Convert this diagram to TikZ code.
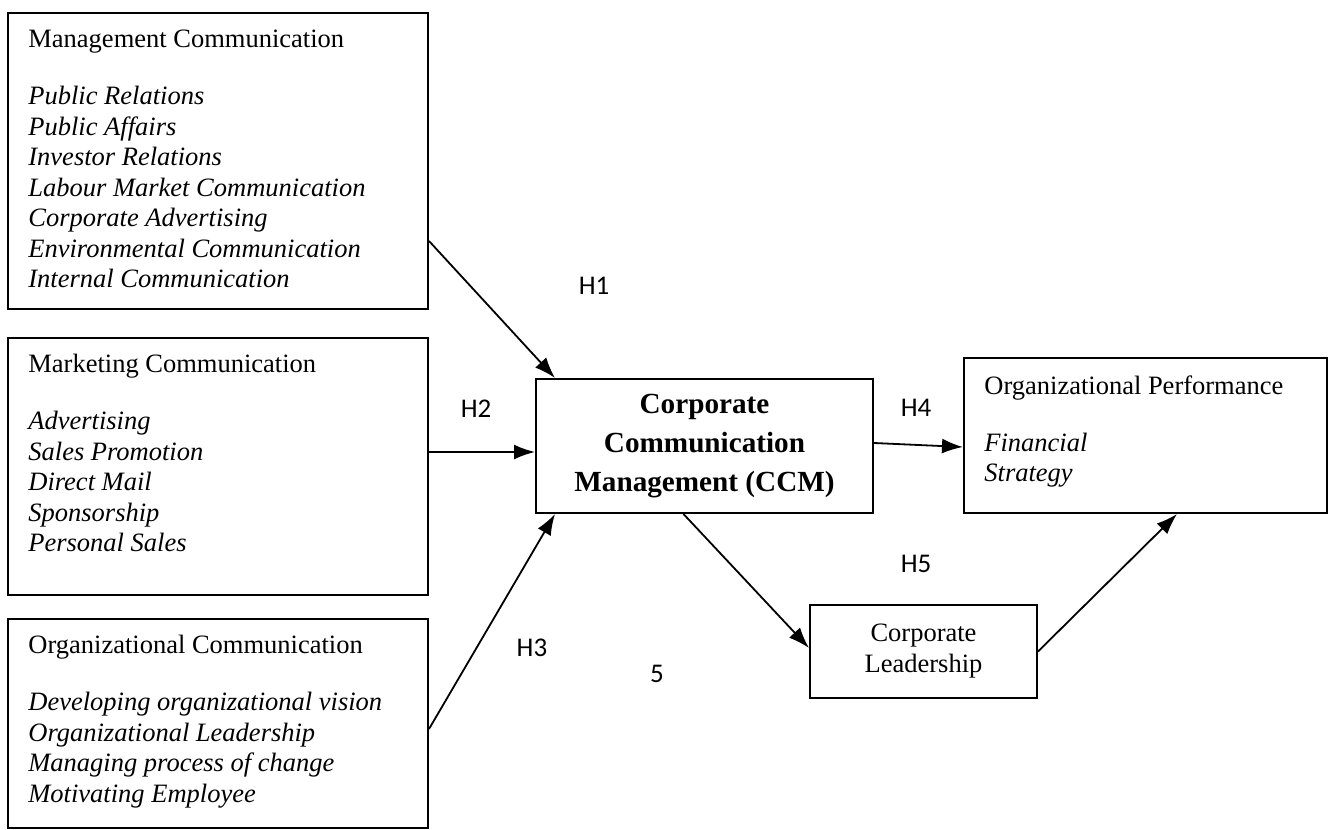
\documentclass[tikz,border=0pt]{standalone}
\usepackage{fontspec}
\setmainfont{Liberation Serif}
\newfontfamily\hfont{Carlito}
\usetikzlibrary{arrows.meta,calc,positioning}

\tikzset{
  box/.style={draw,line width=1pt,rectangle,inner sep=0pt},
  txt/.style={anchor=north west,inner sep=0pt,align=left,
    font=\fontsize{13.25pt}{15.25pt}\selectfont},
  arr/.style={line width=0.9pt,-{Latex[length=7pt,width=5pt,scale=1.5]}},
  hyp/.style={inner sep=0pt,font=\hfont\fontsize{13.5pt}{16pt}\selectfont}
}

\begin{document}
\begin{tikzpicture}[x=0.5pt,y=-0.5pt]
    \useasboundingbox (0,0) rectangle (1330,830);
    % left boxes
    \node[box,minimum width=210pt,minimum height=148pt]   (mgmt) at (218,161)   {};
    \node[box,minimum width=210pt,minimum height=128.5pt] (mktg) at (218,466.5) {};
    \node[box,minimum width=210pt,minimum height=104.5pt] (orgc) at (218,723.5) {};
    \node[txt] (mgmt_t) at ($(mgmt.north west)+(21,18)$)
      {Management Communication\\[13.25pt]
       \itshape Public Relations\\ \itshape Public Affairs\\
       \itshape Investor Relations\\ \itshape Labour Market Communication\\
       \itshape Corporate Advertising\\ \itshape Environmental Communication\\
       \itshape Internal Communication};
    \node[txt] (mktg_t) at ($(mktg.north west)+(21,17)$)
      {Marketing Communication\\[13.25pt]
       \itshape Advertising\\ \itshape Sales Promotion\\ \itshape Direct Mail\\
       \itshape Sponsorship\\ \itshape Personal Sales};
    \node[txt] (orgc_t) at ($(orgc.north west)+(21,17)$)
      {Organizational Communication\\[13.25pt]
       \itshape Developing organizational vision\\
       \itshape Organizational Leadership\\
       \itshape Managing process of change\\ \itshape Motivating Employee};
    % centre and right boxes
    \node[box,minimum width=168.5pt,minimum height=67pt,align=center,
      font=\bfseries\fontsize{14.6pt}{19.5pt}\selectfont] (ccm) at (704.5,446)
      {Corporate\\ Communication\\ Management (CCM)};
    \node[box,minimum width=181.5pt,minimum height=77.5pt] (perf) at (1145.5,435.5) {};
    \node[txt] (perf_t) at ($(perf.north west)+(21,18)$)
      {Organizational Performance\\[13.25pt]
       \itshape Financial\\ \itshape Strategy};
    \node[box,minimum width=113.5pt,minimum height=46.5pt,align=center,
      font=\fontsize{13.25pt}{15.5pt}\selectfont] (lead) at (923.5,651.5)
      {Corporate\\ Leadership};
    % hypotheses
    \node[hyp] (h1) at (594,286)   {H1};
    \node[hyp] (h2) at (476,409)   {H2};
    \node[hyp] (h3) at (532,647.5) {H3};
    \node[hyp] (h4) at (916,408)   {H4};
    \node[hyp] (h5) at (916,564)   {H5};
    \node[hyp] (n5) at (657,674)   {5};
    % arrows
    \draw[arr] ($(mgmt.south east)+(0,-69)$) -- ($(ccm.north west)+(20,0)$);
    \draw[arr] ($(mktg.east)+(0,-14.5)$) coordinate (h2s) -- (h2s -| ccm.west);
    \draw[arr] ($(orgc.east)+(0,5.5)$) -- ($(ccm.south west)+(20,0)$);
    \draw[arr] ($(ccm.east)+(0,-3)$) -- ($(perf.west)+(0,11.5)$);
    \draw[arr] ($(ccm.south)+(-21,0)$) -- ($(lead.west)+(0,-3.5)$);
    \draw[arr] (lead.east) -- ($(perf.south)+(31.5,0)$);
\end{tikzpicture}
\end{document}
